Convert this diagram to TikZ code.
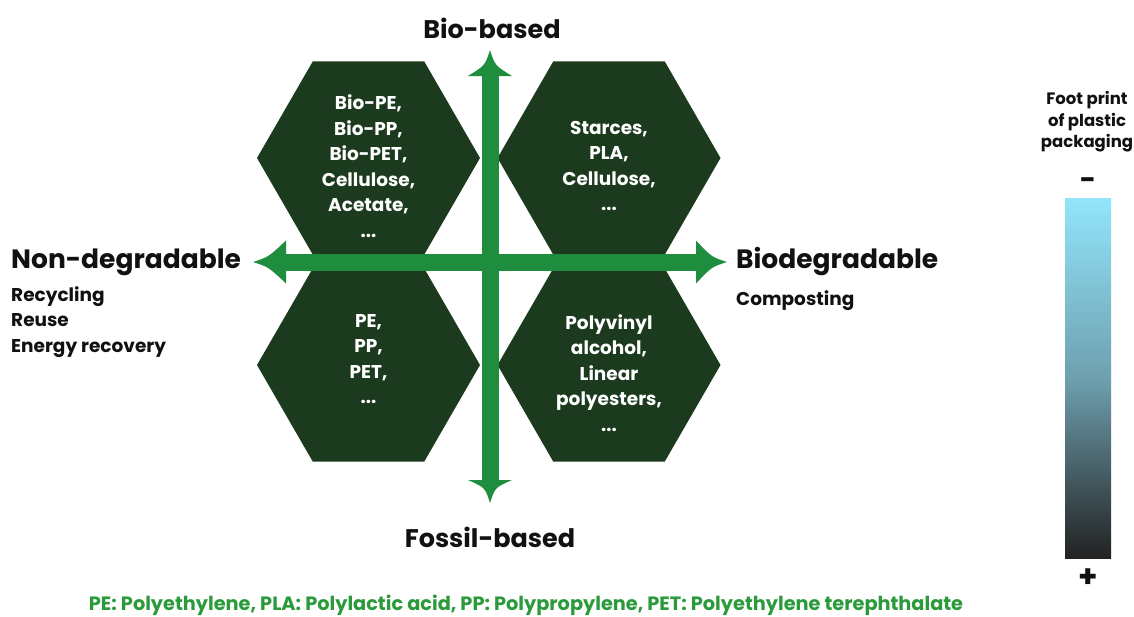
\documentclass[tikz,border=0pt]{standalone}
\usepackage{fontspec}
\setmainfont{Poppins}
\usetikzlibrary{shapes.geometric}
\definecolor{hexgreen}{HTML}{1B3A1E}
\definecolor{axisgreen}{HTML}{1E8E3E}
\definecolor{footgreen}{HTML}{2A9A3A}
\definecolor{barTop}{HTML}{92E5FB}
\definecolor{barBot}{HTML}{222222}
\definecolor{labelblack}{HTML}{111111}
\begin{document}
\begin{tikzpicture}[x=1pt,y=-1pt,
  hexagon/.style={regular polygon, regular polygon sides=6, minimum size=223pt, inner sep=0pt, fill=hexgreen, draw=none},
  hextext/.style={text=white, align=center, font=\bfseries\fontsize{18.5}{25.5}\selectfont},
  axislbl/.style={text=labelblack, font=\bfseries\fontsize{25.5}{28}\selectfont, inner sep=0pt},
  sidelbl/.style={text=labelblack, font=\bfseries\fontsize{26.5}{28}\selectfont, inner sep=0pt},
  sublbl/.style={text=labelblack, font=\bfseries\fontsize{18.5}{25.5}\selectfont, inner sep=0pt, align=left},
  axisline/.style={draw=axisgreen, line width=17pt},
  axishead/.style={fill=axisgreen}]
\useasboundingbox (0,0) rectangle (1134,616);
\fill[white] (0,0) rectangle (1134,616);

% hexagons
\node[hexagon] (hTL) at (368.5,158) {};
\node[hexagon] (hTR) at (609,158) {};
\node[hexagon] (hBL) at (368.5,365) {};
\node[hexagon] (hBR) at (609,365) {};

\node[hextext] (tTL) at (368.5,166) {Bio-PE,\\Bio-PP,\\Bio-PET,\\Cellulose,\\Acetate,\\...};
\node[hextext] (tTR) at (609,166) {Starces,\\PLA,\\Cellulose,\\...};
\node[hextext] (tBL) at (368.5,359) {PE,\\PP,\\PET,\\...};
\node[hextext] (tBR) at (609,373) {Polyvinyl\\alcohol,\\Linear\\polyesters,\\...};

% axes
\coordinate (vtop) at (490,50);
\coordinate (vbot) at (490,503);
\coordinate (hleft) at (253,262);
\coordinate (hright) at (727,262);

\draw[axisline] (490,72) -- (490,484);
\draw[axisline] (282,262) -- (700,262);

\fill[axishead] (vtop) .. controls ++(5,15.5) .. ++(22,26) -- ++(-44,0) .. controls ++(17,-10.5) .. (vtop);
\fill[axishead] (vbot) .. controls ++(5,-15.5) .. ++(22,-23) -- ++(-44,0) .. controls ++(17,7.5) .. (vbot);
\fill[axishead] (hleft) .. controls ++(15.5,5) .. ++(33,21.5) -- ++(0,-43) .. controls ++(-17.5,16.5) .. (hleft);
\fill[axishead] (hright) .. controls ++(-15.5,5) .. ++(-31,21.5) -- ++(0,-43) .. controls ++(15.5,16.5) .. (hright);

% axis labels
\node[axislbl] (bio) at (492,28) {Bio-based};
\node[axislbl] (fossil) at (490,537) {Fossil-based};
\node[sidelbl, anchor=west] (nondeg) at (11,262) {Non-degradable};
\node[sidelbl, anchor=west] (biodeg) at (736,262) {Biodegradable};
\node[sublbl, anchor=west] (ndsub) at (11,322) {Recycling\\Reuse\\Energy recovery};
\node[sublbl, anchor=west] (bdsub) at (736,301) {Composting};

% footprint bar
\node[text=labelblack, align=center, font=\bfseries\fontsize{16.5}{21.5}\selectfont] (fptitle) at (1087,122) {Foot print\\of plastic\\packaging};
\node[text=labelblack, font=\bfseries\fontsize{28}{28}\selectfont, inner sep=0pt] (minus) at (1088,184) {-};
\shade[top color=barTop, bottom color=barBot, middle color={rgb,255:red,110;green,160;blue,175}] (1065,198) rectangle (1111,558);
\node[text=labelblack, font=\bfseries\fontsize{31}{31}\selectfont, inner sep=0pt] (plus) at (1088,578) {+};

% footer
\node[text=footgreen, font=\bfseries\fontsize{19.3}{22}\selectfont, inner sep=0pt] (footer) at (526,605) {PE: Polyethylene, PLA: Polylactic acid, PP: Polypropylene, PET: Polyethylene terephthalate};
\end{tikzpicture}
\end{document}
